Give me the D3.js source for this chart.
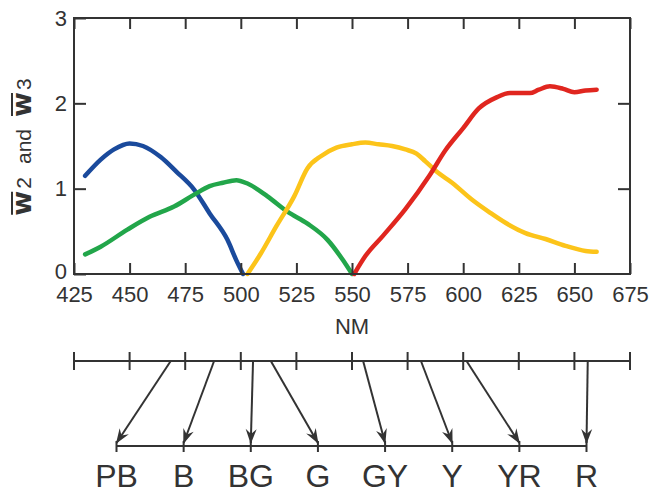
<!DOCTYPE html>
<html>
<head>
<meta charset="utf-8">
<script src="https://cdn.jsdelivr.net/npm/d3@7"></script>
<style>
body { margin:0; background:#fff; }
text, tspan { font-family:"Liberation Sans", Arial, sans-serif; fill:#333; }
</style>
</head>
<body>
<svg id="chart" width="656" height="495"></svg>
<script>
// values
const blueNm = [430, 437, 443, 450, 456, 464, 471, 479, 486, 494, 498, 501];
const blueW  = [1.15, 1.34, 1.46, 1.53, 1.50, 1.37, 1.20, 0.99, 0.71, 0.40, 0.16, 0];
const greenNm = [430, 437, 449, 459, 470, 479, 486, 492, 498, 503, 512, 521, 530, 539, 546, 550];
const greenW  = [0.23, 0.32, 0.52, 0.67, 0.79, 0.93, 1.03, 1.07, 1.10, 1.06, 0.91, 0.73, 0.59, 0.40, 0.16, 0];
const yellowNm = [503, 509, 516, 524, 530, 536, 543, 550, 556, 562, 568, 574, 579, 583, 588, 595, 604, 612, 619, 628, 637, 646, 655, 660];
const yellowW  = [0, 0.24, 0.56, 0.91, 1.24, 1.38, 1.48, 1.52, 1.54, 1.52, 1.50, 1.46, 1.41, 1.32, 1.20, 1.07, 0.87, 0.72, 0.60, 0.48, 0.41, 0.33, 0.27, 0.26];
const redNm = [551, 556, 564, 574, 585, 592, 600, 607, 615, 621, 630, 634, 639, 645, 650, 655, 660];
const redW  = [0, 0.21, 0.45, 0.76, 1.16, 1.45, 1.71, 1.94, 2.07, 2.12, 2.12, 2.16, 2.20, 2.17, 2.13, 2.15, 2.16];

const nmTicks = [425, 450, 475, 500, 525, 550, 575, 600, 625, 650, 675];
const wTicks = [0, 1, 2, 3];

const hueNames = ["PB", "B", "BG", "G", "GY", "Y", "YR", "R"];
const hueFromNm = [468.5, 488, 505.5, 513.5, 555, 581, 601.5, 656];

const seriesList = [
	{nm: blueNm, w: blueW, color: "#1a4a9c"},
	{nm: greenNm, w: greenW, color: "#22a64a"},
	{nm: yellowNm, w: yellowW, color: "#fcc41a"},
	{nm: redNm, w: redW, color: "#e0261f"}
];

const ink = "#333";

const drawChart = (svg_name) => {
	let chart = d3.select(svg_name);
	let margin = {left:74, right:26, top:18, bottom:221};
	let width = +chart.attr("width");
	let height = +chart.attr("height");

	let x = d3.scaleLinear().domain([425, 675]).range([margin.left, width - margin.right]);
	let y = d3.scaleLinear().domain([0, 3]).range([height - margin.bottom, margin.top]);

	addLines(chart, x, y);
	addAxes(chart, x, y);
	addYLabel(chart, y);
	addHueScale(chart, x);
}

const addLines = (chart, x, y) => {
	let valueLine = d3.line()
		.x((d) => x(d[0]))
		.y((d) => y(d[1]))
		.curve(d3.curveMonotoneX);
	seriesList.forEach((s) => {
		chart.append("path")
			.datum(s.nm.map((n, i) => [n, s.w[i]]))
			.attr("fill", "none")
			.attr("stroke", s.color)
			.attr("stroke-width", 4.5)
			.attr("stroke-linecap", "round")
			.attr("stroke-linejoin", "round")
			.attr("d", valueLine);
	});
}

const addAxes = (chart, x, y) => {
	let [x0, x1] = x.range();
	let [y0, y1] = y.range();

	chart.append("g")
		.attr("transform", `translate(0,${y0})`)
		.call(d3.axisBottom(x).tickValues(nmTicks).tickSizeInner(-11).tickSizeOuter(0).tickPadding(12))
		.call((g) => g.select(".domain").remove())
		.call((g) => g.selectAll("text").style("font-size", "22px").attr("fill", ink));

	chart.append("g")
		.attr("transform", `translate(0,${y1})`)
		.call(d3.axisTop(x).tickValues(nmTicks).tickSizeInner(-11).tickSizeOuter(0).tickFormat(""))
		.call((g) => g.select(".domain").remove());

	chart.append("g")
		.attr("transform", `translate(${x0},0)`)
		.call(d3.axisLeft(y).tickValues(wTicks).tickFormat(d3.format("d")).tickSizeInner(-12).tickSizeOuter(0).tickPadding(7))
		.call((g) => g.select(".domain").remove())
		.call((g) => g.selectAll("text").style("font-size", "22px").attr("fill", ink))
		.call((g) => g.selectAll(".tick").filter((d) => d === 0).select("text").attr("dy", "0.22em"));

	chart.append("g")
		.attr("transform", `translate(${x1},0)`)
		.call(d3.axisRight(y).tickValues([1, 2]).tickSizeInner(-12).tickSizeOuter(0).tickFormat(""))
		.call((g) => g.select(".domain").remove());

	chart.selectAll(".tick line").attr("stroke", ink).attr("stroke-width", 2);

	chart.append("rect")
		.attr("x", x0)
		.attr("y", y1)
		.attr("width", x1 - x0)
		.attr("height", y0 - y1)
		.attr("fill", "none")
		.attr("stroke", ink)
		.attr("stroke-width", 2);

	chart.append("text")
		.attr("x", (x0 + x1) / 2)
		.attr("y", y0 + 60)
		.style("text-anchor", "middle")
		.style("font-size", "22px")
		.text("NM");
}

const addYLabel = (chart, y) => {
	let g = chart.append("g")
		.attr("transform", `translate(31,${(y.range()[0] + y.range()[1]) / 2 + 1}) rotate(-90)`);
	let label = g.append("text")
		.style("text-anchor", "middle")
		.style("font-size", "21px");
	const bold = (t, dx) => label.append("tspan")
		.attr("dx", dx)
		.style("font-family", "'DejaVu Sans', sans-serif")
		.style("font-weight", "bold")
		.style("font-size", "27px")
		.text(t);
	const plain = (t, dx) => label.append("tspan")
		.attr("dx", dx)
		.style("font-size", "21px")
		.text(t);
	bold("w", 0);
	plain("2", 2);
	plain("and", 13);
	bold("w", 12);
	plain("3", 2);

	// bars over the two w's
	[0, 5].forEach((i) => {
		let box = label.node().getExtentOfChar(i);
		g.append("line")
			.attr("x1", box.x + 1)
			.attr("x2", box.x + box.width - 1)
			.attr("y1", -19)
			.attr("y2", -19)
			.attr("stroke", ink)
			.attr("stroke-width", 2);
	});
}

const addHueScale = (chart, x) => {
	let topY = 361;
	let botY = 446;
	let hue = d3.scalePoint().domain(hueNames).range([116.5, 586.5]);

	chart.append("defs").append("marker")
		.attr("id", "head")
		.attr("viewBox", "-15 -7 17 14")
		.attr("markerWidth", 17)
		.attr("markerHeight", 14)
		.attr("markerUnits", "userSpaceOnUse")
		.attr("refX", 0)
		.attr("refY", 0)
		.attr("orient", "auto")
		.append("path")
		.attr("d", "M1,0L-14,-5.5L-9,0L-14,5.5Z")
		.attr("fill", ink);

	let scaleG = chart.append("g");
	scaleG.append("line")
		.attr("x1", x.range()[0]).attr("x2", x.range()[1])
		.attr("y1", topY).attr("y2", topY)
		.attr("stroke", ink).attr("stroke-width", 2);
	scaleG.selectAll(".nmtick")
		.data(nmTicks)
		.join("line")
		.attr("x1", (d) => x(d)).attr("x2", (d) => x(d))
		.attr("y1", topY - 9).attr("y2", topY + 9)
		.attr("stroke", ink).attr("stroke-width", 2);

	scaleG.append("line")
		.attr("x1", hue.range()[0]).attr("x2", hue.range()[1])
		.attr("y1", botY).attr("y2", botY)
		.attr("stroke", ink).attr("stroke-width", 2);
	scaleG.selectAll(".huetick")
		.data(hueNames)
		.join("line")
		.attr("x1", (d) => hue(d)).attr("x2", (d) => hue(d))
		.attr("y1", botY - 5).attr("y2", botY + 6)
		.attr("stroke", ink).attr("stroke-width", 2);

	scaleG.selectAll(".arrow")
		.data(hueNames)
		.join("line")
		.attr("x1", (d, i) => x(hueFromNm[i]))
		.attr("y1", topY)
		.attr("x2", (d) => hue(d))
		.attr("y2", botY - 3)
		.attr("stroke", ink)
		.attr("stroke-width", 2)
		.attr("marker-end", "url(#head)");

	scaleG.selectAll(".huelabel")
		.data(hueNames)
		.join("text")
		.attr("x", (d) => hue(d))
		.attr("y", 487)
		.style("text-anchor", "middle")
		.style("font-size", "32px")
		.text((d) => d);
}

drawChart("#chart");
</script>
</body>
</html>
